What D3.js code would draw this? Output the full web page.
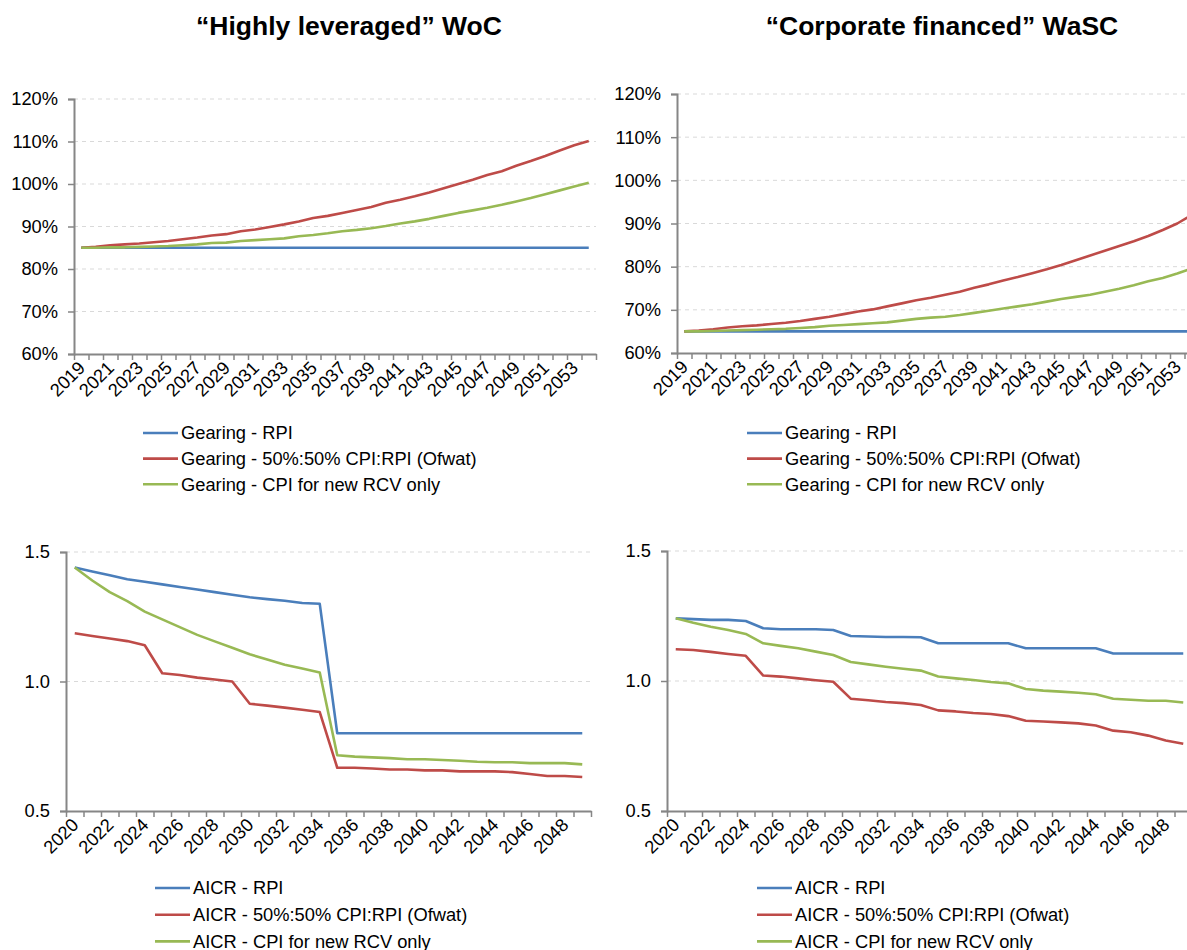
<!DOCTYPE html>
<html>
<head>
<meta charset="utf-8">
<script src="https://cdn.jsdelivr.net/npm/d3@7"></script>
<style>
  body { margin: 0; background: #fff; }
  svg { display: block; font-family: "Liberation Sans", Arial, sans-serif; }
</style>
</head>
<body>
<script>
// ---- data ----
const gearYears = [2019,2020,2021,2022,2023,2024,2025,2026,2027,2028,2029,2030,2031,2032,2033,2034,2035,2036,
  2037,2038,2039,2040,2041,2042,2043,2044,2045,2046,2047,2048,2049,2050,2051,2052,2053,2054];
const gearTickLabels = ["2019","2021","2023","2025","2027","2029","2031","2033","2035","2037","2039",
  "2041","2043","2045","2047","2049","2051","2053"];

const wocGearRpi = [85,85,85,85,85,85,85,85,85,85,85,85,85,85,85,85,85,85,85,85,85,85,85,85,85,85,85,85,85,85,85,85,85,85,85,85];
const wocGearOfwat = [85.0,85.2,85.6,85.8,86.0,86.3,86.6,87.0,87.4,87.9,88.2,88.9,89.3,89.9,90.5,91.2,92.0,92.5,
  93.2,93.9,94.6,95.6,96.3,97.1,98.0,99.0,100.0,101.0,102.1,103.0,104.3,105.4,106.6,107.9,109.1,110.1];
const wocGearCpi = [85.0,85.0,85.1,85.1,85.2,85.3,85.4,85.6,85.8,86.1,86.2,86.6,86.8,87.0,87.2,87.7,88.0,88.4,
  88.9,89.2,89.6,90.1,90.7,91.2,91.8,92.5,93.2,93.8,94.4,95.1,95.9,96.7,97.6,98.5,99.4,100.3];

const wascGearRpi = [65,65,65,65,65,65,65,65,65,65,65,65,65,65,65,65,65,65,65,65,65,65,65,65,65,65,65,65,65,65,65,65,65,65,65,65];
const wascGearOfwat = [65.0,65.2,65.5,65.9,66.2,66.4,66.7,67.0,67.4,67.9,68.4,69.0,69.6,70.1,70.8,71.5,72.2,72.8,
  73.5,74.2,75.1,75.9,76.8,77.6,78.5,79.4,80.4,81.5,82.6,83.7,84.8,85.9,87.1,88.5,90.0,92.0];
const wascGearCpi = [65.0,65.0,65.1,65.2,65.3,65.4,65.5,65.6,65.8,66.0,66.3,66.5,66.7,66.9,67.1,67.5,67.9,68.2,
  68.4,68.8,69.3,69.8,70.3,70.8,71.3,71.9,72.5,73.0,73.5,74.2,74.9,75.7,76.6,77.4,78.4,79.6];

const aicrYears = [2020,2021,2022,2023,2024,2025,2026,2027,2028,2029,2030,2031,2032,2033,2034,
  2035,2036,2037,2038,2039,2040,2041,2042,2043,2044,2045,2046,2047,2048,2049];
const aicrTickLabels = ["2020","2022","2024","2026","2028","2030","2032","2034","2036","2038","2040",
  "2042","2044","2046","2048"];

const wocAicrRpi = [1.44,1.425,1.41,1.395,1.385,1.375,1.365,1.355,1.345,1.335,1.325,1.318,1.312,1.303,1.30,
  0.80,0.80,0.80,0.80,0.80,0.80,0.80,0.80,0.80,0.80,0.80,0.80,0.80,0.80,0.80];
const wocAicrOfwat = [1.186,1.176,1.166,1.156,1.14,1.032,1.025,1.015,1.008,1.0,0.914,0.907,0.899,0.891,0.882,
  0.667,0.667,0.664,0.66,0.66,0.657,0.657,0.653,0.653,0.653,0.65,0.643,0.635,0.635,0.631];
const wocAicrCpi = [1.44,1.39,1.345,1.31,1.27,1.24,1.21,1.18,1.155,1.13,1.105,1.085,1.065,1.05,1.035,
  0.715,0.71,0.707,0.704,0.70,0.70,0.697,0.694,0.69,0.688,0.688,0.685,0.685,0.685,0.68];

const wascAicrRpi = [1.241,1.238,1.235,1.235,1.231,1.203,1.199,1.199,1.199,1.196,1.173,1.171,1.169,1.169,1.168,
  1.145,1.145,1.145,1.145,1.145,1.126,1.126,1.126,1.126,1.126,1.106,1.106,1.106,1.106,1.106];
const wascAicrOfwat = [1.122,1.119,1.112,1.104,1.097,1.021,1.017,1.010,1.003,0.997,0.932,0.926,0.919,0.915,0.908,
  0.887,0.883,0.877,0.873,0.865,0.847,0.844,0.841,0.837,0.829,0.809,0.803,0.790,0.771,0.759];
const wascAicrCpi = [1.241,1.224,1.209,1.196,1.181,1.145,1.135,1.126,1.113,1.10,1.073,1.064,1.055,1.047,1.040,
  1.017,1.010,1.004,0.996,0.991,0.969,0.963,0.959,0.955,0.949,0.932,0.928,0.924,0.924,0.917];

const gearTicks = [60,70,80,90,100,110,120];
const aicrTicks = [0.5,1.0,1.5];

const gearNames = ["Gearing - RPI","Gearing - 50%:50% CPI:RPI (Ofwat)","Gearing - CPI for new RCV only"];
const aicrNames = ["AICR - RPI","AICR - 50%:50% CPI:RPI (Ofwat)","AICR - CPI for new RCV only"];
const titles = ["\u201CHighly leveraged\u201D WoC","\u201CCorporate financed\u201D WaSC"];

const colors = ["#4a7ebb","#be4b48","#98b954"];

const width = 1187, height = 950;

const svg = d3.select("body").append("svg")
  .attr("width", width)
  .attr("height", height);

svg.append("text").attr("x", 349).attr("y", 35).attr("text-anchor", "middle")
  .style("font-size", "26.5px").style("font-weight", "bold").text(titles[0]);
svg.append("text").attr("x", 942).attr("y", 35).attr("text-anchor", "middle")
  .style("font-size", "26.5px").style("font-weight", "bold").text(titles[1]);

function drawPanel(opt) {
  const g = svg.append("g");
  const n = opt.cats.length;
  const right = opt.left + n * opt.step;

  let x = d3.scaleBand().domain(opt.cats).range([opt.left, right]).padding(0);
  let xIdx = d3.scaleLinear().domain([0, n]).range([opt.left, right]);
  let y = d3.scaleLinear().domain(opt.yDomain).range([opt.bottom, opt.top]);

  // gridlines
  g.append("g").selectAll("line")
    .data(opt.yTicks.slice(1))
    .enter().append("line")
      .attr("x1", opt.left).attr("x2", right)
      .attr("y1", d => y(d)).attr("y2", d => y(d))
      .attr("stroke", "#d9d9d9").attr("stroke-width", 1)
      .attr("stroke-dasharray", "4,4");

  // y axis
  let yAxis = d3.axisLeft(y).tickValues(opt.yTicks).tickSize(6).tickPadding(10).tickFormat(opt.yFormat);
  let ya = g.append("g").attr("transform", `translate(${opt.left},0)`).call(yAxis);
  ya.select(".domain").attr("stroke", "#868686").attr("stroke-width", 2);
  ya.selectAll(".tick line").attr("stroke", "#868686").attr("stroke-width", 1.5);
  ya.selectAll("text").style("font-size", "18.3px").attr("fill", "#000")
    .style("font-family", "'Liberation Sans', Arial, sans-serif");

  // x axis (ticks between categories)
  let xAxis = d3.axisBottom(xIdx).tickValues(d3.range(n + 1)).tickSize(6).tickFormat("").tickSizeOuter(0);
  let xa = g.append("g").attr("transform", `translate(0,${opt.bottom})`).call(xAxis);
  xa.select(".domain").attr("stroke", "#868686").attr("stroke-width", 2);
  xa.selectAll(".tick line").attr("stroke", "#868686").attr("stroke-width", 1.5);

  g.append("g").selectAll("text")
    .data(opt.tickLabels)
    .enter().append("text")
      .attr("transform", d => `translate(${x(+d) + x.bandwidth() / 2 + 5},${opt.bottom + 15}) rotate(-45)`)
      .attr("text-anchor", "end")
      .style("font-size", "18.3px")
      .text(d => d);

  // lines
  let line = d3.line()
    .x((d, i) => x(opt.cats[i]) + x.bandwidth() / 2)
    .y(d => y(d));

  opt.series.forEach((s, i) => {
    g.append("path")
      .datum(s)
      .attr("fill", "none")
      .attr("stroke", colors[i])
      .attr("stroke-width", 2.6)
      .attr("stroke-linejoin", "round")
      .attr("d", line);
  });

  // legend
  let legend = g.append("g");
  opt.names.forEach((name, i) => {
    let ly = opt.legendY + i * opt.legendGap;
    legend.append("line")
      .attr("x1", opt.legendX).attr("x2", opt.legendX + 35)
      .attr("y1", ly).attr("y2", ly)
      .attr("stroke", colors[i]).attr("stroke-width", 2.6);
    legend.append("text")
      .attr("x", opt.legendX + 38).attr("y", ly).attr("dy", "0.35em")
      .style("font-size", "18.3px")
      .text(name);
  });
}

drawPanel({
  cats: gearYears, tickLabels: gearTickLabels, left: 74, step: 14.5, top: 99, bottom: 354,
  yDomain: [60, 120], yTicks: gearTicks, yFormat: d => d + "%",
  series: [wocGearRpi, wocGearOfwat, wocGearCpi], names: gearNames,
  legendX: 143, legendY: 433, legendGap: 25.6
});
drawPanel({
  cats: gearYears, tickLabels: gearTickLabels, left: 677, step: 14.5, top: 94, bottom: 353,
  yDomain: [60, 120], yTicks: gearTicks, yFormat: d => d + "%",
  series: [wascGearRpi, wascGearOfwat, wascGearCpi], names: gearNames,
  legendX: 747, legendY: 433, legendGap: 25.6
});
drawPanel({
  cats: aicrYears, tickLabels: aicrTickLabels, left: 66, step: 17.5, top: 552, bottom: 811,
  yDomain: [0.5, 1.5], yTicks: aicrTicks, yFormat: d3.format(".1f"),
  series: [wocAicrRpi, wocAicrOfwat, wocAicrCpi], names: aicrNames,
  legendX: 155, legendY: 888, legendGap: 26.7
});
drawPanel({
  cats: aicrYears, tickLabels: aicrTickLabels, left: 667, step: 17.5, top: 551, bottom: 811,
  yDomain: [0.5, 1.5], yTicks: aicrTicks, yFormat: d3.format(".1f"),
  series: [wascAicrRpi, wascAicrOfwat, wascAicrCpi], names: aicrNames,
  legendX: 757, legendY: 888, legendGap: 26.7
});
</script>
</body>
</html>
